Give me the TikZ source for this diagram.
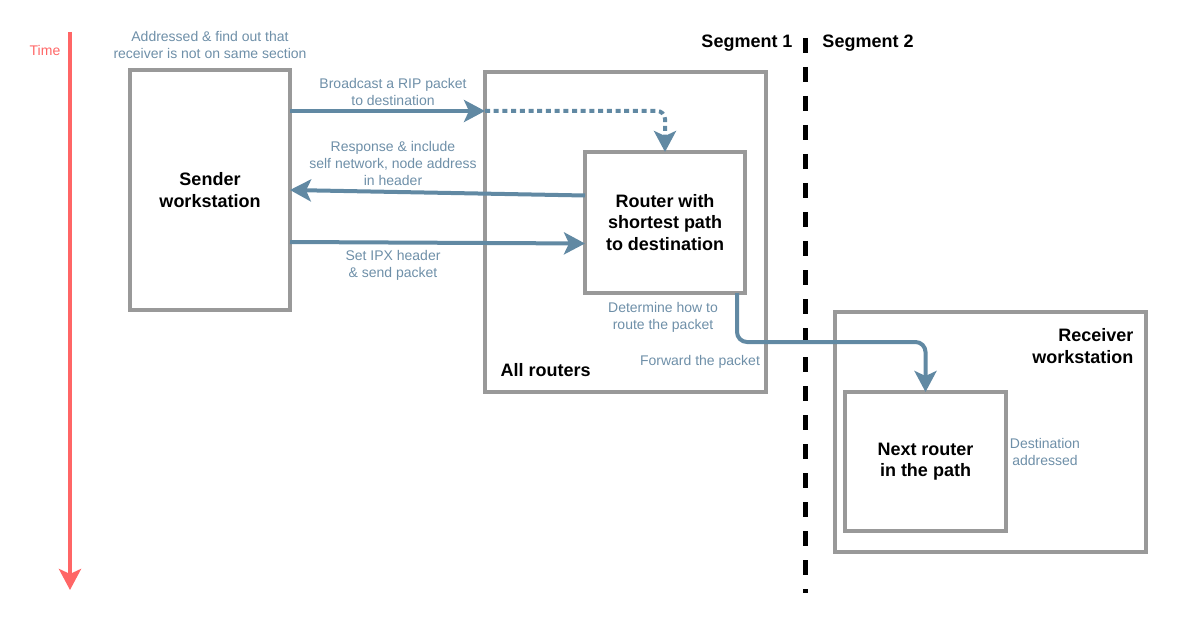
\documentclass[tikz,border=0pt]{standalone}
\usepackage{fontspec}
\setmainfont{Liberation Sans}
\usepackage{tikz}
\usetikzlibrary{arrows.meta, positioning}
\definecolor{boxgray}{HTML}{999999}
\definecolor{flowblue}{HTML}{6189A3}
\definecolor{lblblue}{HTML}{6E8FA8}
\definecolor{timered}{HTML}{FF6666}

\begin{document}
\begin{tikzpicture}[
        x=1pt, y=-1pt, >={Stealth[length=21pt, width=22pt, inset=5pt]},
        box/.style={draw=boxgray, line width=4pt, inner sep=0pt, outer sep=0pt},
        title/.style={font=\fontsize{18}{21.5}\selectfont\bfseries, align=center},
        lbl/.style={text=lblblue, font=\fontsize{14}{17}\selectfont, align=center},
        flow/.style={draw=flowblue, line width=4pt, ->},
        ]
        \useasboundingbox (0,0) rectangle (1190,620);

        % time axis
        \draw[timered, line width=4pt, ->] (70,32) coordinate (t_0) -- (70,590) coordinate (t_1);
        \node[lbl, text=timered, font=\fontsize{14}{16}\selectfont] (time) at (45,50) {Time};

        % boxes
        \node[box, minimum width=160, minimum height=240] (sender)   at (210,190)   {};
        \node[box, minimum width=281, minimum height=320] (routers)  at (625.5,232) {};
        \node[box, minimum width=160, minimum height=141] (router)   at (665,222.5) {};
        \node[box, minimum width=311, minimum height=240] (receiver) at (990.5,432) {};
        \node[box, minimum width=161, minimum height=139] (nextr)    at (925.5,461.5) {};

        \node[title] at (sender)   {Sender\\workstation};
        \node[title] at (router)   {Router with\\shortest path\\to destination};
        \node[title] at (nextr)    {Next router\\in the path};
        \node[title, anchor=west]  (allr) at (497,370) {All routers};
        \node[title, align=right, anchor=north east] (recv) [below left=13pt and 9pt of receiver.north east] {Receiver\\workstation};

        % segments
        \node[title] (seg_1) at (747,43) {Segment 1};
        \node[title] (seg_2) at (868,43) {Segment 2};
        \draw[line width=4.5pt, dash pattern=on 15pt off 14pt] (805.5,38) coordinate (s_0) -- (805.5,593) coordinate (s_1);

        % messages
        \coordinate (bc) at ([yshift=79pt]sender.east);
        \draw[flow] (bc) -- (bc -| routers.west);
        \draw[flow, dash pattern=on 5pt off 3.7pt, rounded corners=8pt] (bc -| routers.west) -| (router.north);
        \draw[flow] ([yshift=27pt]router.west) -- (sender.east);
        \draw[flow] ([yshift=-52pt]sender.east) -- ([yshift=-21pt]router.west);
        \draw[flow, rounded corners=10pt] ([xshift=-8pt]router.south east) -- ++(0,49) -| (nextr.north);

        % labels
        \node[lbl] (l_addr) at (210,45)  {Addressed \& find out that\\receiver is not on same section};
        \node[lbl] (l_bc)   at (393,92)  {Broadcast a RIP packet\\to destination};
        \node[lbl] (l_resp) at (393,163) {Response \& include\\self network, node address\\in header};
        \node[lbl] (l_ipx)  at (393,265) {Set IPX header\\\& send packet};
        \node[lbl] (l_det)  at (663,317) {Determine how to\\route the packet};
        \node[lbl] (l_fwd)  at (700,362) {Forward the packet};
        \node[lbl] (l_dst)  at (1045,452) {Destination\\addressed};
      \end{tikzpicture}
\end{document}
